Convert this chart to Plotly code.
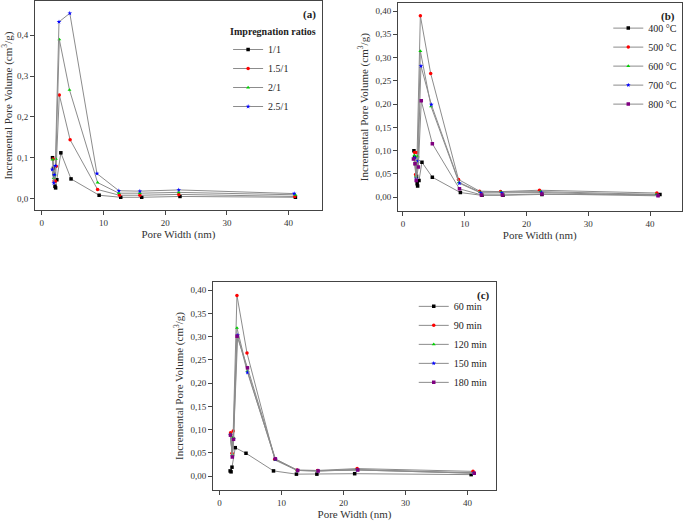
import plotly.graph_objects as go

# ---- data ----
# (a) impregnation ratios
a_names = ["1/1", "1.5/1", "2/1", "2.5/1"]
a_x = [
    [1.75, 1.9, 2.0, 2.15, 2.25, 2.45, 3.1, 4.75, 9.3, 12.8, 16.2, 22.4, 41.1],
    [1.85, 2.0, 2.2, 2.35, 2.85, 4.6, 9.05, 12.6, 15.9, 22.2, 41.0],
    [1.75, 1.95, 2.1, 2.3, 2.85, 4.5, 9.05, 12.5, 15.9, 22.2, 41.1],
    [1.7, 1.95, 2.05, 2.2, 2.8, 4.55, 8.95, 12.5, 15.9, 22.2, 40.9],
]
a_y = [
    [0.100, 0.074, 0.060, 0.030, 0.026, 0.046, 0.112, 0.048, 0.008, 0.003, 0.003, 0.005, 0.003],
    [0.097, 0.043, 0.042, 0.079, 0.254, 0.144, 0.022, 0.008, 0.008, 0.010, 0.005],
    [0.095, 0.050, 0.058, 0.097, 0.390, 0.266, 0.039, 0.013, 0.013, 0.015, 0.009],
    [0.071, 0.038, 0.058, 0.080, 0.433, 0.454, 0.061, 0.019, 0.018, 0.021, 0.012],
]

# (b) temperature
b_names = ["400 °C", "500 °C", "600 °C", "700 °C", "800 °C"]
b_x = [
    [1.78, 1.9, 2.05, 2.2, 2.3, 2.38, 2.6, 3.08, 4.76, 9.3, 12.8, 16.2, 22.5, 41.6],
    [1.9, 2.05, 2.3, 2.82, 4.49, 9.0, 12.4, 15.8, 22.1, 41.1],
    [1.85, 2.1, 2.4, 2.82, 4.55, 9.05, 12.5, 15.9, 22.3, 41.0],
    [1.9, 2.15, 2.45, 2.92, 4.6, 9.15, 12.6, 16.0, 22.4, 41.2],
    [1.7, 1.95, 2.15, 2.5, 2.97, 4.76, 9.15, 12.7, 16.1, 22.5, 41.3],
]
b_y = [
    [0.100, 0.086, 0.072, 0.045, 0.029, 0.024, 0.036, 0.075, 0.043, 0.010, 0.004, 0.004, 0.006, 0.006],
    [0.096, 0.049, 0.096, 0.390, 0.266, 0.038, 0.013, 0.012, 0.015, 0.009],
    [0.090, 0.045, 0.088, 0.314, 0.195, 0.032, 0.011, 0.011, 0.012, 0.006],
    [0.085, 0.040, 0.078, 0.282, 0.199, 0.030, 0.009, 0.009, 0.010, 0.004],
    [0.082, 0.072, 0.036, 0.065, 0.207, 0.115, 0.018, 0.005, 0.005, 0.007, 0.003],
]

# (c) activation time
c_names = ["60 min", "90 min", "120 min", "150 min", "180 min"]
c_x = [
    [1.7, 1.85, 2.0, 2.53, 4.26, 8.7, 12.4, 15.7, 21.8, 40.6],
    [1.77, 2.0, 2.2, 2.8, 4.42, 8.9, 12.5, 15.8, 22.2, 40.9],
    [1.75, 2.05, 2.2, 2.8, 4.5, 9.0, 12.5, 15.8, 22.1, 41.0],
    [1.75, 2.05, 2.25, 2.92, 4.5, 9.0, 12.6, 15.9, 22.2, 41.0],
    [1.75, 2.05, 2.25, 2.82, 4.5, 9.0, 12.6, 15.9, 22.3, 41.1],
]
c_y = [
    [0.011, 0.009, 0.019, 0.061, 0.049, 0.011, 0.004, 0.004, 0.005, 0.003],
    [0.093, 0.049, 0.097, 0.389, 0.265, 0.036, 0.013, 0.012, 0.016, 0.010],
    [0.090, 0.046, 0.084, 0.319, 0.226, 0.034, 0.012, 0.011, 0.014, 0.007],
    [0.088, 0.042, 0.080, 0.303, 0.223, 0.036, 0.012, 0.011, 0.013, 0.006],
    [0.088, 0.041, 0.079, 0.301, 0.233, 0.037, 0.012, 0.011, 0.013, 0.006],
]

colors = ["#000000", "#ff0000", "#00d000", "#0000ff", "#800080"]
symbols = ["square", "circle", "triangle-up", "star", "square"]
LINE = "#8c8c8c"
FONT = "Liberation Serif"

fig = go.Figure()


def add_panel(names, xs, ys, n, legend):
    xa = "x" if n == 1 else f"x{n}"
    ya = "y" if n == 1 else f"y{n}"
    for i, name in enumerate(names):
        fig.add_trace(go.Scatter(
            x=xs[i], y=ys[i], name=name, mode="lines+markers",
            xaxis=xa, yaxis=ya, legend=legend,
            line=dict(color=LINE, width=1),
            marker=dict(color=colors[i], symbol=symbols[i], size=3.5,
                        line=dict(width=0)),
        ))


add_panel(a_names, a_x, a_y, 1, "legend")
add_panel(b_names, b_x, b_y, 2, "legend2")
add_panel(c_names, c_x, c_y, 3, "legend3")


def xax(domain, rng, anchor):
    return dict(domain=domain, range=rng, anchor=anchor, dtick=10, tick0=0,
                showline=True, mirror=True, linecolor="#444", linewidth=1,
                ticks="outside", ticklen=4, tickcolor="#444", showgrid=False,
                zeroline=False, tickfont=dict(size=9, color="#333"),
                title=dict(text="Pore Width (nm)", font=dict(size=11, color="#333"),
                           standoff=0))


def yax(domain, rng, anchor, dtick, fmt):
    return dict(domain=domain, range=rng, anchor=anchor, dtick=dtick, tick0=0,
                tickformat=fmt, showline=True, mirror=True, linecolor="#444",
                linewidth=1, ticks="outside", ticklen=4, tickcolor="#444",
                showgrid=False, zeroline=False, tickfont=dict(size=9, color="#333"),
                title=dict(text="Incremental Pore Volume (cm<sup>3</sup>/g)",
                           font=dict(size=11, color="#333"), standoff=4))


leg_common = dict(bgcolor="rgba(0,0,0,0)", font=dict(family=FONT, size=10, color="#222"),
                  xanchor="left", yanchor="top", tracegroupgap=0)

fig.update_layout(
    width=685, height=524,
    margin=dict(l=0, r=0, t=0, b=0, autoexpand=False),
    paper_bgcolor="white", plot_bgcolor="white",
    separators=",.",
    font=dict(family=FONT, color="#333"),
    xaxis=xax([0.051, 0.470], [-1.1, 45.4], "y"),
    yaxis=yax([0.599, 0.998], [-0.0285, 0.484], "x", 0.1, ".1f"),
    xaxis2=xax([0.581, 0.995], [-0.8, 45.1], "y2"),
    yaxis2=yax([0.597, 0.994], [-0.030, 0.417], "x2", 0.05, ".2f"),
    xaxis3=xax([0.311, 0.724], [-1.06, 44.6], "y3"),
    yaxis3=yax([0.065, 0.462], [-0.030, 0.418], "x3", 0.05, ".2f"),
    legend=dict(x=0.333, y=0.958,
                title=dict(text="<b>Impregnation ratios</b>", font=dict(size=10)),
                **leg_common),
    legend2=dict(x=0.888, y=0.974, **leg_common),
    legend3=dict(x=0.604, y=0.443, **leg_common),
    annotations=[
        dict(text="<b>(a)</b>", xref="x domain", yref="y domain", x=0.985, y=0.975,
             xanchor="right", yanchor="top", showarrow=False, font=dict(size=11, color="#222")),
        dict(text="<b>(b)</b>", xref="x2 domain", yref="y2 domain", x=0.985, y=0.975,
             xanchor="right", yanchor="top", showarrow=False, font=dict(size=11, color="#222")),
        dict(text="<b>(c)</b>", xref="x3 domain", yref="y3 domain", x=0.985, y=0.975,
             xanchor="right", yanchor="top", showarrow=False, font=dict(size=11, color="#222")),
    ],
)

# the page body has a default margin; drop it so the figure sits at the window corner
fig.write_html("out.html", config={"displayModeBar": False},
               post_script="document.body.style.margin='0';")
